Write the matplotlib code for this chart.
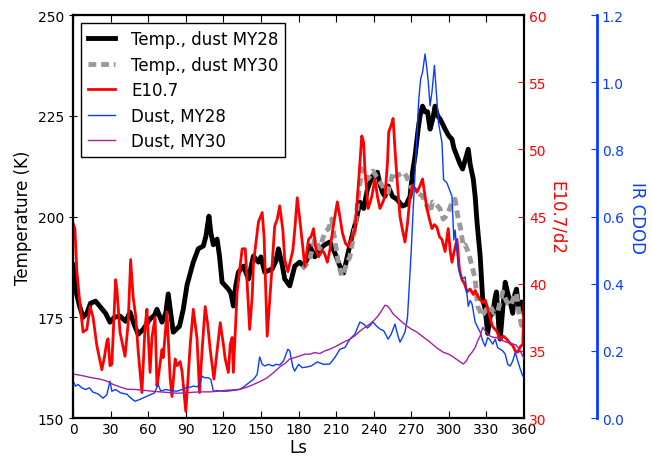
import matplotlib
matplotlib.use('Agg')
import matplotlib.pyplot as plt

red = '#ff0000'
blue = '#0a3cff'
purple = '#a5209f'

# Temperature, dust MY28 (K)
ls_t28 = [0, 2, 5, 8, 11, 14, 18, 22, 26, 29.5, 33, 37.5, 42, 45.5, 49, 52, 56, 61.5, 65,
          67, 71, 74, 76, 78, 80, 85, 88, 91, 96, 100, 104, 106, 108.5, 110, 112, 115, 117,
          119, 124, 126, 128, 130, 132, 136, 140, 144, 148, 150, 153, 159, 162, 164, 167, 169,
          173, 177, 181, 184, 187, 189, 193, 197, 201, 205, 209, 213, 216, 219, 223.5, 226,
          229, 232, 235, 239, 243, 245, 247, 249, 251.5, 255, 258.5, 263, 266, 269, 271, 273,
          275.5, 277, 279, 281, 283, 285, 287, 289, 291, 293, 295, 297, 300, 302.5, 304, 306.5,
          309, 311, 313, 315.5, 317, 319.5, 321, 322.5, 325, 327, 329, 331, 333, 335, 337, 338,
          340, 341, 343, 345, 347, 349, 351, 352, 354, 356, 358.5, 360]
t28 = [188, 182, 178, 175, 176, 178.5, 179, 177.5, 176, 173.8, 175, 175.3, 174, 176.3, 173,
       170.8, 172, 174.6, 175.5, 177, 173.8, 176, 180.8, 176, 171.3, 172.8, 177, 183, 188.7,
       192, 192.7, 195, 200.1, 196, 193, 194.4, 190, 183.7, 182, 181, 177.8, 183, 186.2,
       187.7, 184.5, 190.2, 188.7, 190, 186.2, 187, 189, 192, 188, 184.5, 182.8, 187.7, 188.7,
       187.7, 189.5, 192.7, 190, 192, 193, 193.7, 191, 187.7, 186, 190.2, 196.2, 199, 203.6,
       202, 206.8, 210, 211, 208, 206, 205, 207.6, 205, 204.3, 202.6, 203, 205, 211, 215,
       221.7, 225, 227.4, 226, 226, 221.7, 224, 227.4, 225, 224.2, 223, 221.7, 220, 219.2,
       217, 215, 213, 211.8, 214, 216.7, 213, 209.3, 205, 198.6, 190.2, 179.5, 177, 171,
       175.3, 176, 180, 181.3, 172, 169.6, 177, 183.7, 181, 178.8, 176, 180, 182, 177, 178.8,
       176]

# Temperature, dust MY30 (K)
ls_t30 = [183, 186, 189, 193, 197, 201, 204, 206.5, 208, 210.5, 212, 214.5, 217, 219, 221,
          223.5, 225.5, 227.5, 230.5, 233, 235, 237, 239.5, 242, 245, 248, 251.5, 253, 255.5,
          258, 261, 264, 266.5, 269, 271.5, 275, 279, 282, 285, 287, 290, 293, 295.5, 297.5,
          299.5, 302, 305, 307.5, 309, 311.5, 313, 315.5, 318.5, 321, 323, 326.5, 330, 333,
          336, 339, 341, 343, 346, 349, 352, 354, 356, 358, 360]
t30 = [187, 188, 189.5, 194.4, 192, 196.2, 197, 199.4, 196, 191.2, 188, 185.2, 187, 188.7,
       190, 194.4, 198, 204.3, 211.8, 210, 209.3, 210, 211.3, 210, 208.6, 207, 206, 208, 211,
       210, 210.5, 211, 209.8, 207.6, 207, 206, 205, 203, 201, 203.6, 203, 201.9, 199.4, 200,
       201, 203, 204.3, 199.4, 197.6, 192.7, 193, 191.2, 187.7, 184.5, 177.8, 175.3, 177,
       177.8, 176, 176.3, 179, 181.3, 179, 177.8, 180, 181, 176, 173, 174]

# E10.7 / d^2
ls_e = [0, 1.5, 3, 5, 8, 11, 13.6, 16, 19, 21, 23, 25, 27, 28, 29.5, 31, 34, 35, 37.5, 41.5,
        44, 46, 48, 50, 52, 55, 57.5, 59, 61.5, 63, 65.5, 67, 68, 71, 72, 75, 77.5, 79, 81.5,
        83, 85.5, 87, 90, 91.5, 93.5, 96, 97.5, 99, 101, 103, 105.5, 107.5, 109.5, 112.5, 115,
        117.5, 120, 121.5, 124, 125.5, 127, 128, 131, 133, 135, 137.5, 139, 141, 143, 144,
        148, 151, 152.5, 155, 158, 161, 163, 165, 167.5, 169, 171.5, 173, 175.5, 177, 179,
        181, 183, 185, 188, 190, 192, 194, 196, 199, 201, 203, 205, 207, 209, 211, 213, 215,
        217.5, 219.5, 222, 225, 227.5, 229, 230.5, 232, 233, 235.5, 237, 238.5, 241, 243,
        245, 247, 249, 251, 252, 254, 255.5, 257, 258.5, 261, 263, 265, 267, 269, 271, 273,
        274.5, 277, 279, 281, 282.5, 284.5, 286.5, 288.5, 290.5, 292.5, 294.5, 297, 299.5,
        301, 302.5, 304.5, 306.5, 308.5, 310.5, 312.5, 314.5, 317, 319.5, 321, 323, 325, 327,
        329, 331, 333, 335, 338, 341, 343.5, 346, 348.5, 351, 353, 355, 357, 359, 360]
e107 = [44.5, 44.1, 41, 39, 36.4, 36.6, 38.3, 37.5, 35.4, 34.5, 33.6, 34.5, 35.7, 35.9, 33.9,
        34, 40.3, 39.6, 36.4, 34.6, 37, 41.8, 39, 37.6, 35, 31.9, 36.8, 38.1, 33.4, 36, 37.5,
        32.4, 33, 35.1, 34.5, 37.9, 33, 31.6, 34.4, 33.9, 34.2, 33.5, 30.5, 32.5, 35.4, 38.1,
        37, 35.9, 31.9, 35, 38.3, 37, 35.1, 32.9, 35, 37.1, 35.5, 34.4, 33.4, 35.5, 36, 33.4,
        39.4, 41, 42.6, 42.6, 40, 36.6, 39, 41.5, 44.6, 45.3, 43.5, 36.1, 40.1, 44.3, 44.8,
        45.8, 44, 41.8, 40.9, 41.5, 42.5, 44, 46.4, 44.8, 43.1, 41.3, 43.3, 43.5, 44.1, 42.5,
        42, 42.5, 42.2, 41.6, 42.5, 43.8, 45, 46.1, 45, 43.8, 43, 42.8, 43.3, 44, 47, 49, 51,
        50.5, 48.5, 45.6, 46, 46.5, 47.8, 46.5, 45.6, 46, 46.5, 49, 51.3, 51.8, 52.3, 50, 48,
        45, 44, 43.1, 44.5, 46.5, 47.3, 47.1, 46.8, 47.3, 47.8, 46.5, 45.6, 44.8, 44.1, 44.4,
        44.2, 43.5, 43.3, 42.4, 44.1, 42.5, 41.6, 42.5, 43.3, 41, 40.3, 40, 39.4, 39.6, 39.2,
        39.5, 39.1, 38.8, 38.6, 38.8, 38.2, 37.4, 36.8, 36.5, 35.9, 36.1, 35.9, 35.6, 35.4,
        35.0, 34.9, 35.3, 35.5, 38.6]

# IR column dust optical depth, MY28
ls_d28 = [0, 2, 4, 7, 10, 13, 16, 20, 24, 27, 29.5, 31, 34, 38, 43, 46, 49.5, 53, 56, 59, 62,
          65, 68, 70, 74, 78, 83, 87, 90, 93.5, 96, 99, 101, 103, 105, 108, 110, 112, 115, 119,
          123, 127, 130, 133.5, 137, 141, 144, 147, 149, 151, 153, 156, 159.5, 162, 165, 168,
          170, 171.5, 173, 175.5, 177, 180, 183, 186.5, 190, 195, 200, 205, 209, 213, 217, 221,
          225, 229, 232, 235, 237, 239.5, 242, 245, 248, 251.5, 254, 257, 259, 261, 263, 265,
          267, 268.5, 270, 271.5, 273, 274.5, 276, 277.5, 279, 281, 282.5, 283.6, 285, 286.5,
          288.5, 290, 291.7, 294.5, 295.8, 298.5, 302.5, 304, 305, 307.5, 309, 310.5, 313,
          315.5, 317, 318.5, 321, 323, 325, 327, 329, 331, 333, 335, 337, 339, 341, 343, 345,
          347, 349, 351, 353, 355, 357, 359, 360]
d28 = [0.11, 0.095, 0.10, 0.09, 0.085, 0.09, 0.077, 0.072, 0.059, 0.07, 0.11, 0.08, 0.085,
       0.075, 0.071, 0.06, 0.05, 0.055, 0.06, 0.065, 0.07, 0.075, 0.10, 0.08, 0.085, 0.082,
       0.08, 0.085, 0.09, 0.092, 0.095, 0.093, 0.1, 0.125, 0.12, 0.12, 0.115, 0.08, 0.082,
       0.08, 0.08, 0.082, 0.083, 0.086, 0.095, 0.107, 0.115, 0.13, 0.182, 0.16, 0.155, 0.16,
       0.155, 0.16, 0.158, 0.17, 0.19, 0.205, 0.20, 0.152, 0.14, 0.16, 0.15, 0.152, 0.155,
       0.167, 0.16, 0.161, 0.18, 0.205, 0.21, 0.235, 0.25, 0.286, 0.28, 0.268, 0.275, 0.286,
       0.275, 0.265, 0.26, 0.235, 0.25, 0.28, 0.25, 0.226, 0.24, 0.256, 0.3, 0.4, 0.5, 0.62,
       0.73, 0.84, 0.95, 1.01, 1.03, 1.084, 1.04, 1.0, 0.93, 0.97, 1.05, 0.97, 0.88, 0.82,
       0.71, 0.70, 0.66, 0.53, 0.56, 0.45, 0.43, 0.414, 0.42, 0.333, 0.35, 0.34, 0.286, 0.27,
       0.256, 0.23, 0.214, 0.24, 0.232, 0.22, 0.235, 0.21, 0.205, 0.2, 0.19, 0.16, 0.155,
       0.17, 0.196, 0.17, 0.146, 0.125, 0.125]

# IR column dust optical depth, MY30
ls_d30 = [0, 5, 9, 15, 21.5, 27, 32, 38, 43, 50, 56, 63, 69.5, 76, 83, 90, 96, 103, 109.5,
          116, 123, 128, 133.5, 139, 144, 150, 155, 160, 165, 170, 173, 177, 181, 185, 189,
          193, 197, 201, 205, 209, 213, 217, 221, 225, 229, 233, 237, 240, 243.5, 246, 248,
          249, 251, 253, 255.5, 258.5, 262, 266.5, 270, 274.5, 280, 285, 290, 295.5, 300,
          303.5, 308, 311.5, 314, 316, 318.5, 321, 323, 325, 327, 329, 331, 333, 336, 338,
          342, 346, 350, 354, 357, 360]
d30 = [0.131, 0.128, 0.125, 0.12, 0.116, 0.11, 0.10, 0.092, 0.086, 0.085, 0.083, 0.08, 0.078,
       0.076, 0.074, 0.075, 0.077, 0.078, 0.078, 0.08, 0.083, 0.084, 0.086, 0.092, 0.10,
       0.11, 0.12, 0.135, 0.152, 0.165, 0.176, 0.18, 0.185, 0.19, 0.19, 0.195, 0.192, 0.2,
       0.205, 0.212, 0.22, 0.228, 0.235, 0.245, 0.259, 0.27, 0.28, 0.29, 0.304, 0.318, 0.33,
       0.336, 0.334, 0.325, 0.31, 0.30, 0.288, 0.274, 0.265, 0.256, 0.24, 0.226, 0.21, 0.196,
       0.19, 0.182, 0.17, 0.161, 0.17, 0.185, 0.196, 0.21, 0.23, 0.244, 0.27, 0.26, 0.25,
       0.244, 0.24, 0.24, 0.232, 0.226, 0.222, 0.217, 0.2, 0.176]

plt.rcParams['font.family'] = 'DejaVu Sans'
plt.rcParams['axes.linewidth'] = 1.5

fig = plt.figure(figsize=(6.52, 4.6), dpi=100)
ax = fig.add_axes([0.112, 0.089, 0.6917, 0.8761])
ax_e = ax.twinx()
ax_d = ax.twinx()
ax_d.spines['right'].set_position(('axes', 1.1619))

l1, = ax.plot(ls_t28, t28, color='k', lw=3.5, label='Temp., dust MY28')
l2, = ax.plot(ls_t30, t30, color='0.6', lw=3.5, linestyle=(0, (1.6, 1.0)),
              label='Temp., dust MY30')
l3, = ax_e.plot(ls_e, e107, color=red, lw=2, label='E10.7')
l4, = ax_d.plot(ls_d28, d28, color=blue, lw=1, label='Dust, MY28')
l5, = ax_d.plot(ls_d30, d30, color=purple, lw=1, label='Dust, MY30')

ax.set_xlim(0, 360)
ax.set_xticks(range(0, 361, 30))
ax.set_ylim(150, 250)
ax.set_yticks(range(150, 251, 25))
ax_e.set_ylim(30, 60)
ax_e.set_yticks(range(30, 61, 5))
ax_d.set_ylim(0, 1.2)
ax_d.set_yticks([0.0, 0.2, 0.4, 0.6, 0.8, 1.0, 1.2])
ax_d.set_yticklabels(['0.0', '0.2', '0.4', '0.6', '0.8', '1.0', '1.2'])

ax.tick_params(axis='x', direction='in', top=True, length=5, labelsize=10, pad=3)
ax.tick_params(axis='y', direction='inout', length=6, labelsize=10)
ax_e.tick_params(axis='y', direction='in', length=4, colors=red, labelsize=10)
ax_d.tick_params(axis='y', direction='in', length=4, colors=blue, labelsize=10)
ax_e.spines['right'].set_color('k')
ax_d.spines['right'].set_color(blue)
ax_d.spines['right'].set_linewidth(2)

ax.set_xlabel('Ls', fontsize=12, labelpad=1)
ax.set_ylabel('Temperature (K)', fontsize=12)
ax_e.set_ylabel('E10.7/d2', color=red, fontsize=12, rotation=270, labelpad=14)
ax_d.set_ylabel('IR CDOD', color=blue, fontsize=12, rotation=270, labelpad=16)

leg = ax_d.legend(handles=[l1, l2, l3, l4, l5], loc='upper left', fontsize=12,
                  fancybox=False, framealpha=1, edgecolor='k', handlelength=1.6,
                  handletextpad=1.0, borderpad=0.4, labelspacing=0.45, borderaxespad=0.5)
leg.get_frame().set_linewidth(1)

fig.savefig('out.png', dpi=100)
